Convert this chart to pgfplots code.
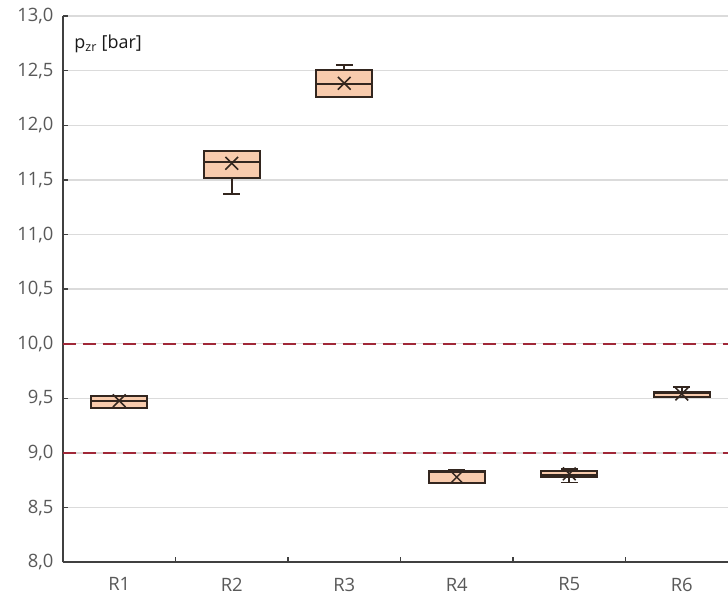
\documentclass[border=0pt]{standalone}
\usepackage{fontspec}
\setmainfont{Open Sans}
\usepackage{pgfplots}
\pgfplotsset{compat=1.18}
\usepgfplotslibrary{statistics}
\definecolor{boxfill}{HTML}{F8CBAD}
\definecolor{boxdraw}{HTML}{33261F}
\definecolor{limred}{HTML}{A02838}
\definecolor{ticktext}{HTML}{595959}
\begin{document}
\begin{tikzpicture}
\begin{axis}[
  at={(0,0)}, anchor=south west,
  scale only axis, width=665bp, height=546.3bp,
  xmin=0, xmax=5.911, ymin=8, ymax=13,
  axis x line*=bottom, axis y line*=left,
  axis line style={draw=black!75, line width=2bp},
  ytick={8,8.5,...,13},
  ymajorgrids, grid style={draw=black!14, line width=1.4bp},
  xtick={0.5,1.5,2.5,3.5,4.5,5.5},
  xticklabels={R1,R2,R3,R4,R5,R6},
  minor xtick={1,2,3,4,5},
  major x tick style={draw=none},
  minor x tick style={draw=black!75, line width=1.4bp},
  major y tick style={draw=black!75, line width=1.4bp},
  tick align=inside,
  major tick length=5bp, minor tick length=5bp,
  ticklabel style={font=\fontsize{18.5}{20}\selectfont, text=ticktext},
  yticklabel style={xshift=-6bp},
  xticklabel style={yshift=-12bp},
  /pgf/number format/.cd, fixed, fixed zerofill, precision=1, use comma, assume math mode=true,
  /pgfplots/.cd,
  boxplot/draw direction=y,
  boxplot/box extend=0.5,
  boxplot/whisker extend=0.15,
  clip=false,
]
\addplot[limred, line width=2.2bp, dash pattern=on 13bp off 7bp] coordinates {(0,10) (5.911,10)};
\addplot[limred, line width=2.2bp, dash pattern=on 13bp off 7bp] coordinates {(0,9) (5.911,9)};

\addplot[draw=boxdraw, fill=boxfill, line width=1.9bp, boxplot prepared={draw position=0.5,
  lower whisker=9.41, lower quartile=9.41, median=9.48, upper quartile=9.52, upper whisker=9.52}] coordinates {};
\addplot[draw=boxdraw, fill=boxfill, line width=1.9bp, boxplot prepared={draw position=1.5,
  lower whisker=11.37, lower quartile=11.517, median=11.667, upper quartile=11.767, upper whisker=11.767}] coordinates {};
\addplot[draw=boxdraw, fill=boxfill, line width=1.9bp, boxplot prepared={draw position=2.5,
  lower whisker=12.256, lower quartile=12.261, median=12.375, upper quartile=12.506, upper whisker=12.552}] coordinates {};
\addplot[draw=boxdraw, fill=boxfill, line width=1.9bp, boxplot prepared={draw position=3.5,
  lower whisker=8.723, lower quartile=8.723, median=8.83, upper quartile=8.836, upper whisker=8.848}] coordinates {};
\addplot[draw=boxdraw, fill=boxfill, line width=1.9bp, boxplot prepared={draw position=4.5,
  lower whisker=8.73, lower quartile=8.78, median=8.80, upper quartile=8.836, upper whisker=8.857}] coordinates {};
\addplot[draw=boxdraw, fill=boxfill, line width=1.9bp, boxplot prepared={draw position=5.5,
  lower whisker=9.513, lower quartile=9.513, median=9.55, upper quartile=9.561, upper whisker=9.607}] coordinates {};

\addplot[only marks, mark=x, mark size=9bp, draw=boxdraw, line width=1.5bp] coordinates {
  (0.5,9.479) (1.5,11.652) (2.5,12.384) (3.5,8.78) (4.5,8.81) (5.5,9.54)};

\node[anchor=west, text=black!90, font=\fontsize{18}{20}\selectfont] at (rel axis cs:0.012,0.949) {p\textsubscript{zr} [bar]};
\end{axis}
\pgfresetboundingbox
\path[use as bounding box] (-63bp,-37.7bp) rectangle (665bp,562.3bp);
\end{tikzpicture}
\end{document}
